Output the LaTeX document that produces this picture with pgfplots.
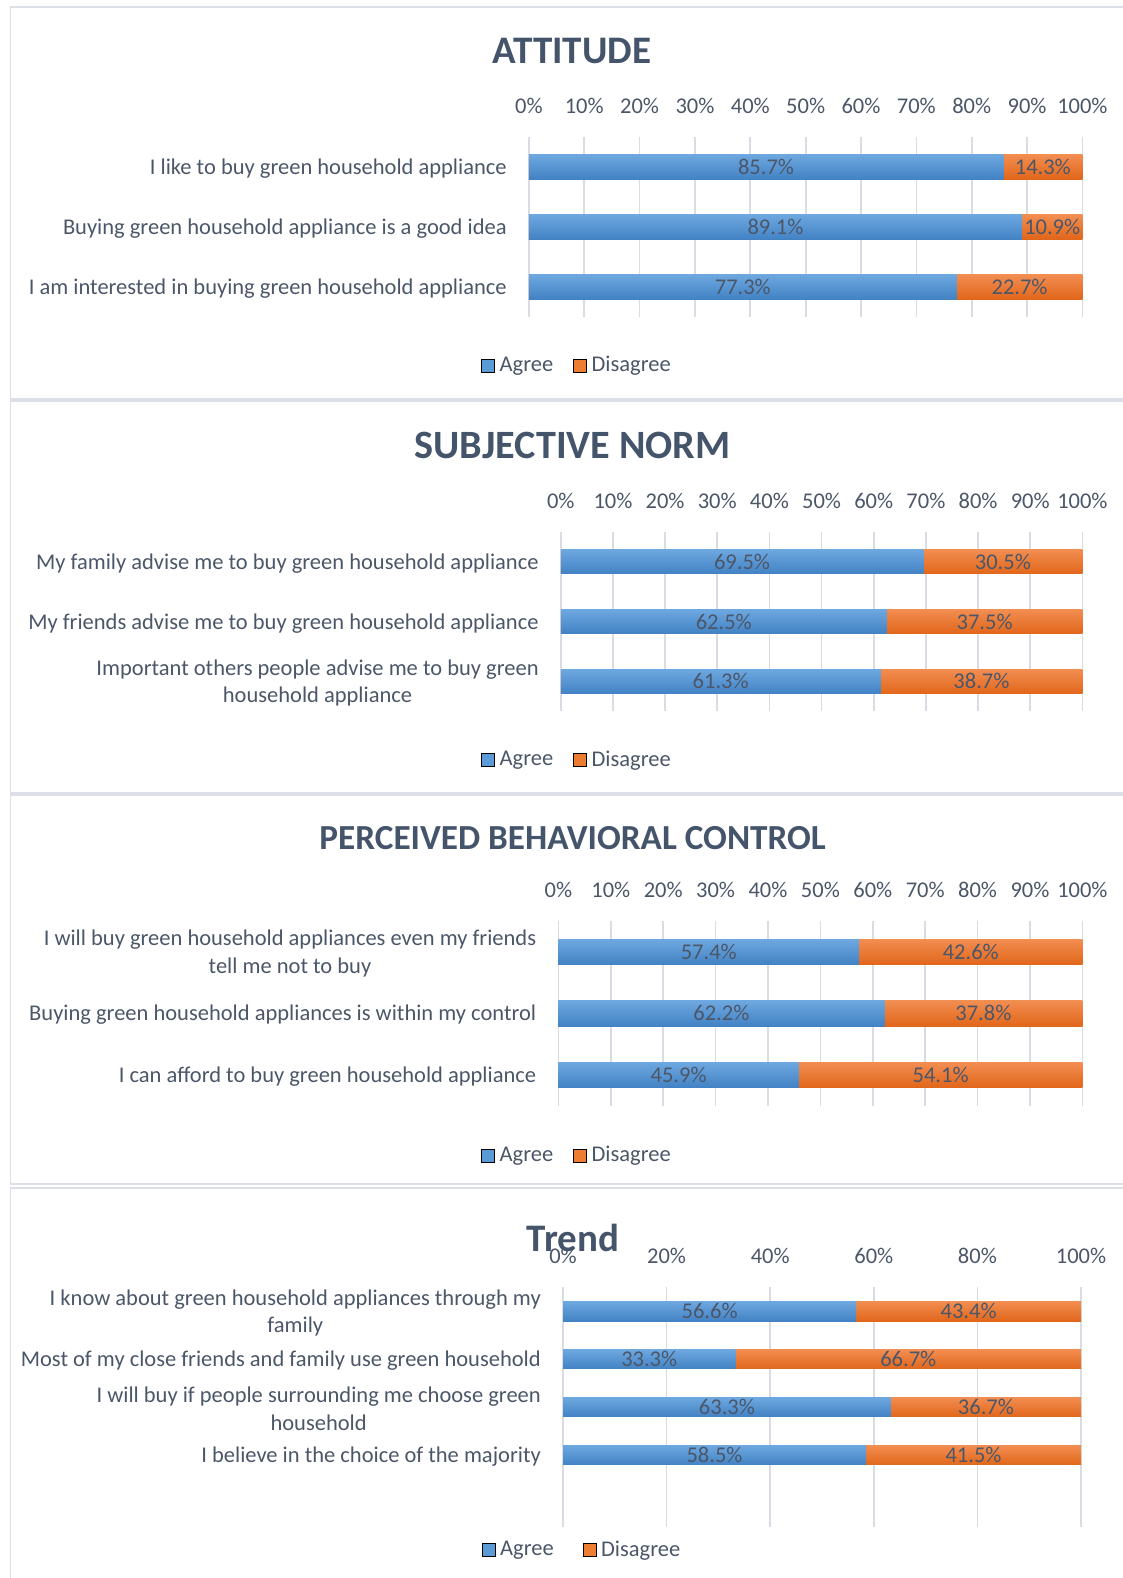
\documentclass[border=0pt]{standalone}
\usepackage{fontspec}
\setmainfont{Carlito}
\usepackage{pgfplots}
\usepackage{pgfplotstable}
\pgfplotsset{compat=1.18}
\definecolor{agreeT}{HTML}{6EA8E0}
\definecolor{agreeB}{HTML}{4282C4}
\definecolor{agreeL}{HTML}{5B9BD5}
\definecolor{disT}{HTML}{F28E52}
\definecolor{disB}{HTML}{E1661A}
\definecolor{disL}{HTML}{ED7D31}
\definecolor{titlec}{HTML}{44546A}
\definecolor{labc}{HTML}{4B5769}
\definecolor{gridc}{HTML}{D9DDE3}
\definecolor{framec}{HTML}{DCE0E6}

\pgfplotstableread{
y agree disagree
1 85.7 14.3
2 89.1 10.9
3 77.3 22.7
}\attitude
\pgfplotstableread{
y agree disagree
1 69.5 30.5
2 62.5 37.5
3 61.3 38.7
}\subjnorm
\pgfplotstableread{
y agree disagree
1 57.4 42.6
2 62.2 37.8
3 45.9 54.1
}\pbc
\pgfplotstableread{
y agree disagree
1 56.6 43.4
2 33.3 66.7
3 63.3 36.7
4 58.5 41.5
}\trend

\newcommand{\lf}{\fontsize{22.5}{27.5}\selectfont}
\newcommand{\tf}[1]{\fontsize{#1}{#1}\selectfont\bfseries}

\pgfplotsset{
  panel/.style={
    scale only axis,
    anchor=north west,
    xmin=0, xmax=100,
    y dir=reverse,
    ymin=0.5,
    axis line style={draw=none},
    major tick length=0pt,
    xmajorgrids,
    grid style={gridc, line width=1.7pt},
    xticklabel pos=right,
    xticklabel={\pgfmathprintnumber{\tick}\%},
    /pgf/number format/assume math mode=true,
    ticklabel style={font=\lf, text=labc},
    xticklabel style={inner sep=0pt, anchor=south, yshift=23pt},
    yticklabel style={inner sep=0pt, anchor=east, xshift=-22pt, yshift=-1.7pt, align=center},
    legend columns=2,
    legend style={draw=none, fill=none, inner sep=0pt, font=\lf, text=labc,
      anchor=center, nodes={inner sep=0pt},
      /tikz/every odd column/.append style={column sep=5pt},
      /tikz/every even column/.append style={column sep=20pt}},
    legend image code/.code={\path[##1] (0pt,-7pt) rectangle (13pt,6pt);},
    clip=false,
  },
  lbl/.style={draw=none, mark=none, forget plot, point meta=explicit,
    nodes near coords={\pgfmathprintnumber[fixed,precision=1,fixed zerofill]{\pgfplotspointmeta}\%},
    nodes near coords style={anchor=center, font=\lf, text=labc, inner sep=0pt}},
}

% one shaded bar per row so that each bar carries its own gradient
\newcommand{\bars}[3]{%
  \pgfplotsinvokeforeach{0,...,#2}{%
    \addplot[xbar, bar width=#3, bar shift=0pt, draw=none, top color=disT, bottom color=disB,
      forget plot, restrict expr to domain={\coordindex}{##1:##1}]
      table[x expr=\thisrow{agree}+\thisrow{disagree}, y=y]{#1};
    \addplot[xbar, bar width=#3, bar shift=0pt, draw=none, top color=agreeT, bottom color=agreeB,
      forget plot, restrict expr to domain={\coordindex}{##1:##1}]
      table[x=agree, y=y]{#1};
  }%
  \addplot[lbl] table[x expr=\thisrow{agree}/2, y=y, meta=agree]{#1};
  \addplot[lbl] table[x expr=\thisrow{agree}+\thisrow{disagree}/2, y=y, meta=disagree]{#1};
  \addlegendimage{fill=agreeL}\addlegendentry{Agree}
  \addlegendimage{fill=disL}\addlegendentry{Disagree}
}

\begin{document}
\begin{tikzpicture}
\useasboundingbox (0pt,0pt) rectangle (1123pt,1578pt);
% panel frames
\draw[framec, line width=1.5pt] (10.7pt,1571pt) rectangle (1130pt,1179pt);
\draw[framec, line width=1.5pt] (10.7pt,1177pt) rectangle (1130pt,785pt);
\draw[framec, line width=1.5pt] (10.7pt,783pt) rectangle (1130pt,394pt);
\draw[framec, line width=1.5pt] (10.7pt,390pt) rectangle (1130pt,-10pt);

% titles
\node[text=titlec, font=\tf{39}] at (572pt,1527.2pt) {ATTITUDE};
\node[text=titlec, font=\tf{40.2}] at (572.6pt,1132.2pt) {SUBJECTIVE NORM};
\node[text=titlec, font=\tf{35.2}] at (572.6pt,740pt) {PERCEIVED BEHAVIORAL CONTROL};
\node[text=titlec, font=\tf{39}] at (573pt,340.5pt) {Trend};

% ---------- ATTITUDE
\begin{axis}[panel, at={(528.9pt,1441.3pt)}, width=553.5pt, height=180pt,
  ymax=3.5, ytick={1,2,3}, xtick={0,10,...,100},
  yticklabels={I like to buy green household appliance,
    Buying green household appliance is a good idea,
    I am interested in buying green household appliance},
  legend style={at={(axis description cs:0.0851,-0.268)}}]
\bars{\attitude}{2}{24.7pt}
\end{axis}

% ---------- SUBJECTIVE NORM
\begin{axis}[panel, at={(560.8pt,1046.3pt)}, width=521.6pt, height=179.5pt,
  ymax=3.5, ytick={1,2,3}, xtick={0,10,...,100},
  yticklabels={My family advise me to buy green household appliance,
    My friends advise me to buy green household appliance,
    {Important others people advise me to buy green\\household appliance}},
  legend style={at={(axis description cs:0.0291,-0.268)}}]
\bars{\subjnorm}{2}{24.5pt}
\end{axis}

% ---------- PBC
\begin{axis}[panel, at={(558.4pt,657pt)}, width=524pt, height=184.7pt,
  ymax=3.5, ytick={1,2,3}, xtick={0,10,...,100},
  yticklabels={{I will buy green household appliances even my friends\\tell me not to buy},
    Buying green household appliances is within my control,
    I can afford to buy green household appliance},
  legend style={at={(axis description cs:0.0336,-0.267)}}]
\bars{\pbc}{2}{25.5pt}
\end{axis}

% ---------- Trend
\begin{axis}[panel, at={(563pt,290.7pt)}, width=518pt, height=239.5pt,
  ymax=5.5, ytick={1,2,3,4}, xtick={0,20,...,100},
  yticklabels={{I know about green household appliances through my\\family},
    Most of my close friends and family use green household,
    {I will buy if people surrounding me choose green\\household},
    I believe in the choice of the majority},
  legend style={at={(axis description cs:0.0347,-0.094)},
    /tikz/every even column/.append style={column sep=29pt}}]
\bars{\trend}{3}{19.7pt}
\end{axis}
\end{tikzpicture}
\end{document}
